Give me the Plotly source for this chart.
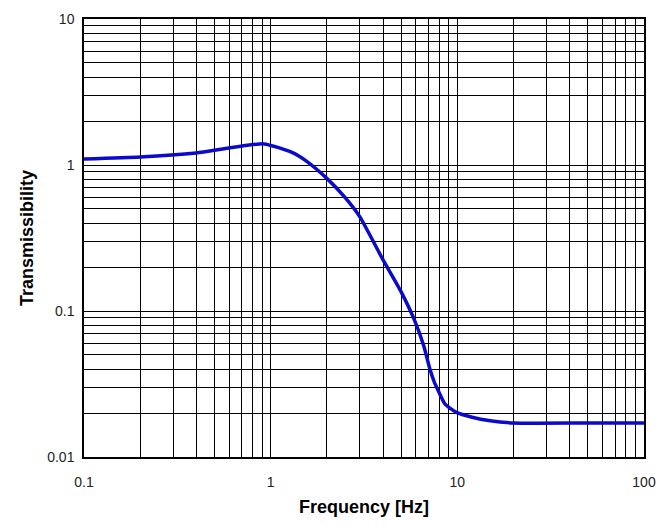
import plotly.graph_objects as go

freq = [0.1, 0.2, 0.4, 0.92, 1.3, 1.56, 2.0, 2.5, 3.0, 4.0, 4.93, 5.93, 6.6, 7.13, 7.5, 7.9, 8.6, 9.9, 12, 15, 20, 50, 100]
trans = [1.10, 1.135, 1.21, 1.395, 1.22, 1.06, 0.81, 0.60, 0.443, 0.224, 0.140, 0.085, 0.058, 0.040, 0.033, 0.0285, 0.023, 0.0202, 0.0187, 0.0177, 0.0171, 0.0171, 0.0171]

x_ticks = [0.1, 1, 10, 100]
y_ticks = [0.01, 0.1, 1, 10]

FONT = "Liberation Sans, Arial"

fig = go.Figure()
fig.add_trace(go.Scatter(x=freq, y=trans, mode="lines",
                         line=dict(color="#0A0ACD", width=3.5, shape="spline", smoothing=0.5),
                         showlegend=False, hoverinfo="skip"))

axis_common = dict(
    type="log", automargin=False,
    showgrid=True, gridcolor="black", gridwidth=1.3,
    showline=True, linecolor="black", linewidth=1.5, mirror=True,
    ticks="", zeroline=False,
    tickfont=dict(family=FONT, size=14, color="#222"),
    minor=dict(dtick="D1", showgrid=True, gridcolor="black", gridwidth=1.3, ticks=""),
)

fig.update_xaxes(**axis_common, range=[-1, 2], tickvals=x_ticks,
                 ticktext=[str(v) for v in x_ticks], ticklabelstandoff=11,
                 title=dict(text="<b>Frequency [Hz]</b>", font=dict(family=FONT, size=18, color="black"), standoff=12))
fig.update_yaxes(**axis_common, range=[-2, 1], tickvals=y_ticks,
                 ticktext=[str(v) for v in y_ticks], ticklabelstandoff=5,
                 title=dict(text="<b>Transmissibility</b>", font=dict(family=FONT, size=18, color="black"), standoff=9))

fig.update_layout(width=665, height=527,
                  margin=dict(l=84, r=21, t=19, b=70),
                  plot_bgcolor="white", paper_bgcolor="white")

fig.write_html("out.html")
